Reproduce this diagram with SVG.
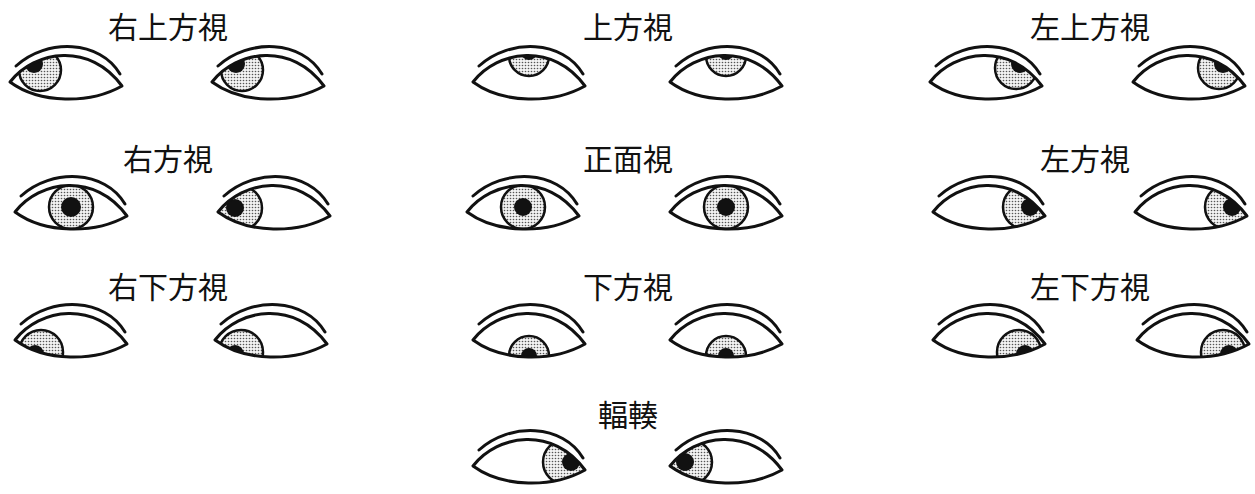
<svg xmlns="http://www.w3.org/2000/svg" width="1255" height="494" viewBox="0 0 1255 494">
<style>
.t{font-family:"Noto Sans CJK JP","Noto Sans CJK SC",serif;font-size:30px;fill:#111;text-anchor:middle}
.l{fill:none;stroke:#111;stroke-width:3;stroke-linecap:round;stroke-linejoin:round}
.ir{fill:url(#dots);stroke:#111;stroke-width:2.5}
.pu{fill:#111}
</style>
<defs>
<pattern id="dots" width="3" height="3" patternUnits="userSpaceOnUse"><rect width="3" height="3" fill="#f2f2f2"/><circle cx="1.5" cy="1.5" r="0.8" fill="#555"/></pattern>
<path id="eyeP" d="M0,0 C25,-32 80,-40 112,4 C80,22 30,22 0,0 Z"/>
<clipPath id="ec"><use href="#eyeP"/></clipPath>
<g id="lid"><use href="#eyeP" class="l"/><path class="l" d="M6,-16 C37,-44 90,-42 110,-8"/></g>
</defs>
<g id="labels">
<text class="t" x="168" y="38">右上方視</text>
<text class="t" x="628" y="38">上方視</text>
<text class="t" x="1090" y="38">左上方視</text>
<text class="t" x="168" y="170">右方視</text>
<text class="t" x="628" y="170">正面視</text>
<text class="t" x="1085" y="170">左方視</text>
<text class="t" x="168" y="298">右下方視</text>
<text class="t" x="628" y="298">下方視</text>
<text class="t" x="1090" y="298">左下方視</text>
<text class="t" x="628" y="426">輻輳</text>
</g>
<g id="eye-r1a" transform="translate(10,82)"><g clip-path="url(#ec)"><circle class="ir" cx="30" cy="-12" r="21"/><circle class="pu" cx="24" cy="-18" r="9"/></g><use href="#lid"/></g>
<g id="eye-r1b" transform="translate(212,82)"><g clip-path="url(#ec)"><circle class="ir" cx="30" cy="-12" r="21"/><circle class="pu" cx="24" cy="-18" r="9"/></g><use href="#lid"/></g>
<g id="eye-u1a" transform="translate(473,82)"><g clip-path="url(#ec)"><circle class="ir" cx="56" cy="-26" r="20"/><circle class="pu" cx="56" cy="-30" r="8"/></g><use href="#lid"/></g>
<g id="eye-u1b" transform="translate(670,82)"><g clip-path="url(#ec)"><circle class="ir" cx="56" cy="-26" r="20"/><circle class="pu" cx="56" cy="-30" r="8"/></g><use href="#lid"/></g>
<g id="eye-l1a" transform="translate(930,82)"><g clip-path="url(#ec)"><circle class="ir" cx="86" cy="-14" r="21"/><circle class="pu" cx="90" cy="-18" r="9"/></g><use href="#lid"/></g>
<g id="eye-l1b" transform="translate(1133,82)"><g clip-path="url(#ec)"><circle class="ir" cx="86" cy="-14" r="21"/><circle class="pu" cx="90" cy="-18" r="9"/></g><use href="#lid"/></g>
<g id="eye-r2a" transform="translate(15,212)"><g clip-path="url(#ec)"><circle class="ir" cx="56" cy="-5" r="22"/><circle class="pu" cx="56" cy="-5" r="10"/></g><use href="#lid"/></g>
<g id="eye-r2b" transform="translate(218,212)"><g clip-path="url(#ec)"><circle class="ir" cx="22" cy="-4" r="22"/><circle class="pu" cx="17" cy="-4" r="9"/></g><use href="#lid"/></g>
<g id="eye-c2a" transform="translate(467,212)"><g clip-path="url(#ec)"><circle class="ir" cx="56" cy="-5" r="22"/><circle class="pu" cx="56" cy="-5" r="9"/></g><use href="#lid"/></g>
<g id="eye-c2b" transform="translate(670,212)"><g clip-path="url(#ec)"><circle class="ir" cx="56" cy="-5" r="22"/><circle class="pu" cx="56" cy="-5" r="9"/></g><use href="#lid"/></g>
<g id="eye-l2a" transform="translate(933,212)"><g clip-path="url(#ec)"><circle class="ir" cx="92" cy="-5" r="22"/><circle class="pu" cx="97" cy="-5" r="9"/></g><use href="#lid"/></g>
<g id="eye-l2b" transform="translate(1135,212)"><g clip-path="url(#ec)"><circle class="ir" cx="92" cy="-5" r="22"/><circle class="pu" cx="97" cy="-5" r="9"/></g><use href="#lid"/></g>
<g id="eye-r3a" transform="translate(15,340)"><g clip-path="url(#ec)"><circle class="ir" cx="26" cy="12" r="22"/><circle class="pu" cx="20" cy="14" r="9"/></g><use href="#lid"/></g>
<g id="eye-r3b" transform="translate(215,340)"><g clip-path="url(#ec)"><circle class="ir" cx="26" cy="12" r="22"/><circle class="pu" cx="20" cy="14" r="9"/></g><use href="#lid"/></g>
<g id="eye-d3a" transform="translate(473,340)"><g clip-path="url(#ec)"><circle class="ir" cx="56" cy="16" r="20"/><circle class="pu" cx="56" cy="16" r="8"/></g><use href="#lid"/></g>
<g id="eye-d3b" transform="translate(670,340)"><g clip-path="url(#ec)"><circle class="ir" cx="56" cy="16" r="20"/><circle class="pu" cx="56" cy="16" r="8"/></g><use href="#lid"/></g>
<g id="eye-l3a" transform="translate(933,340)"><g clip-path="url(#ec)"><circle class="ir" cx="86" cy="12" r="22"/><circle class="pu" cx="92" cy="14" r="9"/></g><use href="#lid"/></g>
<g id="eye-l3b" transform="translate(1137,340)"><g clip-path="url(#ec)"><circle class="ir" cx="86" cy="12" r="22"/><circle class="pu" cx="92" cy="14" r="9"/></g><use href="#lid"/></g>
<g id="eye-v4a" transform="translate(473,466)"><g clip-path="url(#ec)"><circle class="ir" cx="92" cy="-4" r="22"/><circle class="pu" cx="98" cy="-4" r="9"/></g><use href="#lid"/></g>
<g id="eye-v4b" transform="translate(670,466)"><g clip-path="url(#ec)"><circle class="ir" cx="20" cy="-4" r="22"/><circle class="pu" cx="15" cy="-4" r="9"/></g><use href="#lid"/></g>
</svg>
